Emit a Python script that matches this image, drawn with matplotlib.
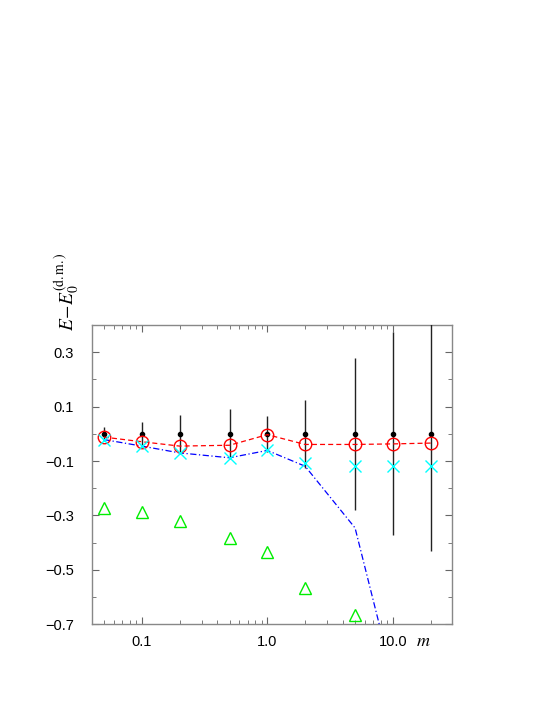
import numpy as np
import matplotlib
matplotlib.use("Agg")
import matplotlib.pyplot as plt
from matplotlib.ticker import FixedLocator, NullFormatter, MultipleLocator, LogLocator

plt.rcParams['font.family'] = ['Liberation Sans', 'DejaVu Sans']
plt.rcParams['mathtext.fontset'] = 'stix'

# data
m_vals = [0.05, 0.1, 0.2, 0.5, 1.0, 2.0, 5.0, 10.0, 20.0]
dm_center = [0, 0, 0, 0, 0, 0, 0, 0, 0]
dm_err = [0.025, 0.045, 0.069, 0.09, 0.065, 0.126, 0.279, 0.373, 0.432]
circles = [-0.012, -0.029, -0.045, -0.042, -0.003, -0.039, -0.039, -0.037, -0.034]
crosses = [-0.021, -0.043, -0.070, -0.088, -0.061, -0.109, -0.117, -0.117, -0.117]
dashdot = [-0.021, -0.045, -0.070, -0.088, -0.061, -0.119, -0.346, -0.90, -1.5]
m_tri = [0.05, 0.1, 0.2, 0.5, 1.0, 2.0, 5.0]
triangles = [-0.271, -0.287, -0.319, -0.383, -0.436, -0.567, -0.664]

fig = plt.figure(figsize=(5.45, 7.05), dpi=100)
ax = fig.add_axes([92.3 / 545, 1 - 624.3 / 705, (451.7 - 92.3) / 545, (624.3 - 325) / 705])

ax.errorbar(m_vals, dm_center, yerr=dm_err, fmt='o', color='black', ms=3,
            ecolor='#222222', elinewidth=1.0, capsize=0, zorder=3)
ax.plot(m_vals, circles, color='red', lw=0.9, dashes=(4, 2.5), zorder=4)
ax.plot(m_vals, circles, 'o', mfc='none', mec='red', ms=9, mew=1.0, zorder=5)
ax.plot(m_vals, dashdot, color='blue', lw=0.9, dashes=(5, 2, 1, 2), zorder=4)
ax.plot(m_vals, crosses, 'x', color='cyan', ms=9, mew=1.0, zorder=5)
ax.plot(m_tri, triangles, '^', mfc='none', mec='#00ee00', ms=8, mew=1.0, zorder=5)

ax.set_xscale('log')
ax.set_xlim(0.0404, 29.4)
ax.set_ylim(-0.7, 0.4)
ax.xaxis.set_major_locator(FixedLocator([0.1, 1.0, 10.0]))
ax.set_xticklabels(['0.1', '1.0', '10.0'])
ax.xaxis.set_minor_locator(LogLocator(base=10, subs=np.arange(2, 10)))
ax.xaxis.set_minor_formatter(NullFormatter())
ax.set_yticks([-0.7, -0.5, -0.3, -0.1, 0.1, 0.3])
ax.set_yticklabels(['\u22120.7', '\u22120.5', '\u22120.3', '\u22120.1', '0.1', '0.3'])
ax.yaxis.set_minor_locator(MultipleLocator(0.1))

ax.tick_params(which='both', direction='in', top=True, right=True,
               labelsize=10.5, color='#666666')
ax.tick_params(axis='x', pad=8)
ax.tick_params(axis='y', pad=13)
ax.tick_params(which='major', length=5)
ax.tick_params(which='minor', length=3)
for s in ax.spines.values():
    s.set_color('#888888')
    s.set_linewidth(1.0)

fig.text(423 / 545, 1 - 641 / 705, r'$m$', fontsize=13, ha='center', va='center')
fig.text(67 / 545, 1 - 292 / 705, r'$E\!-\!E_0^{\rm (d.m.)}$', fontsize=14,
         rotation=90, ha='center', va='center')

fig.savefig('out.png', dpi=100)
